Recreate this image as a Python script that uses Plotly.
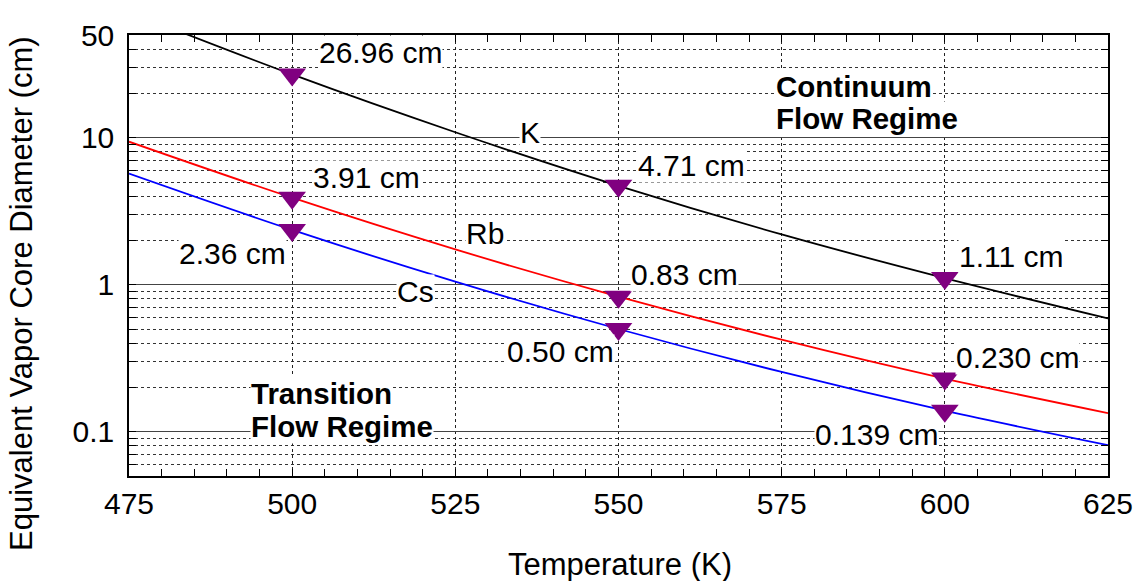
import plotly.graph_objects as go

# Temperatures (K) along each curve
temps = [475, 500, 525, 550, 575, 600, 625]

# Equivalent vapor core diameter (cm) for each working fluid
k_diam = [72.0, 26.96, 10.9, 4.71, 2.20, 1.11, 0.59]
rb_diam = [9.4, 3.91, 1.74, 0.83, 0.423, 0.230, 0.134]
cs_diam = [5.7, 2.36, 1.05, 0.50, 0.255, 0.139, 0.081]

# Marked design points
pt_temps = [500, 550, 600]
k_pts = [26.96, 4.71, 1.11]
rb_pts = [3.91, 0.83, 0.230]
cs_pts = [2.36, 0.50, 0.139]

# Value labels: (text, T of left edge, log10 diameter of centre)
value_labels = [
    ("26.96 cm", 503.9, 1.577),
    ("3.91 cm", 503.0, 0.733),
    ("2.36 cm", 482.5, 0.216),
    ("4.71 cm", 552.8, 0.808),
    ("0.83 cm", 551.8, 0.073),
    ("0.50 cm", 532.8, -0.451),
    ("1.11 cm", 602.0, 0.189),
    ("0.230 cm", 601.6, -0.498),
    ("0.139 cm", 580.0, -1.016),
]
fluid_labels = [("K", 534.7, 1.039), ("Rb", 526.5, 0.352), ("Cs", 515.9, -0.049)]
regime_labels = [
    ("Continuum", 574.0, 1.352),
    ("Flow Regime", 574.0, 1.128),
    ("Transition", 493.5, -0.737),
    ("Flow Regime", 493.5, -0.962),
]

y_major = [0.1, 1, 10, 50]
y_major_text = ["0.1", "1", "10", "50"]
y_minor = [0.06, 0.07, 0.08, 0.09,
           0.2, 0.3, 0.4, 0.5, 0.6, 0.7, 0.8, 0.9,
           2, 3, 4, 5, 6, 7, 8, 9,
           20, 30, 40]

FONT = "Liberation Sans, Arial, sans-serif"

fig = go.Figure()
for name, vals, col in [("K", k_diam, "black"), ("Rb", rb_diam, "red"), ("Cs", cs_diam, "blue")]:
    fig.add_trace(go.Scatter(x=temps, y=vals, mode="lines", name=name,
                             line=dict(color=col, width=1.8, shape="spline")))
for vals in (k_pts, rb_pts, cs_pts):
    fig.add_trace(go.Scatter(x=pt_temps, y=vals, mode="markers",
                             marker=dict(symbol="triangle-down", size=24, color="#800080",
                                         line=dict(width=0))))

annos = []
for txt, x, y in value_labels + fluid_labels:
    annos.append(dict(text=txt, x=x, y=y, xref="x", yref="y", xanchor="left", yanchor="middle",
                      showarrow=False, bgcolor="white", borderpad=0,
                      font=dict(family=FONT, size=30, color="black")))
for txt, x, y in regime_labels:
    annos.append(dict(text="<b>%s</b>" % txt, x=x, y=y, xref="x", yref="y", xanchor="left",
                      yanchor="middle", showarrow=False, bgcolor="white", borderpad=0,
                      font=dict(family=FONT, size=29.5, color="black")))
annos.append(dict(text="Equivalent Vapor Core Diameter (cm)", textangle=-90, x=-0.1093, y=0.415,
                  xref="paper", yref="paper", xanchor="center", yanchor="middle", showarrow=False,
                  font=dict(family=FONT, size=31, color="black")))
annos.append(dict(text="Temperature (K)", x=0.5015, y=-0.2018, xref="paper", yref="paper",
                  xanchor="center", yanchor="middle", showarrow=False,
                  font=dict(family=FONT, size=31, color="black")))

fig.update_layout(
    width=1138, height=581,
    margin=dict(l=129, r=30, t=35, b=105, autoexpand=False),
    paper_bgcolor="white", plot_bgcolor="white",
    showlegend=False,
    annotations=annos,
    font=dict(family=FONT, size=30, color="black"),
)
fig.update_xaxes(
    range=[475, 625], tick0=475, dtick=25, automargin=False,
    showgrid=True, gridcolor="#222", gridwidth=1, griddash="dot",
    ticks="inside", ticklen=7, tickcolor="black",
    minor=dict(dtick=5, ticks="inside", ticklen=7, tickcolor="black", showgrid=False),
    showline=True, linecolor="black", linewidth=1.5, mirror="allticks",
    zeroline=False, ticklabelstandoff=0,
    tickfont=dict(family=FONT, size=30, color="black"),
)
fig.update_yaxes(
    type="log", range=[-1.30103, 1.69897], automargin=False,
    tickvals=y_major, ticktext=y_major_text,
    showgrid=True, gridcolor="#444", gridwidth=1,
    ticks="inside", ticklen=7, tickcolor="black",
    minor=dict(tickvals=y_minor, ticks="inside", ticklen=7, tickcolor="black",
               showgrid=True, gridcolor="#333", gridwidth=1, griddash="3px,3px"),
    showline=True, linecolor="black", linewidth=1.5, mirror="allticks",
    zeroline=False, ticklabelstandoff=7,
    tickfont=dict(family=FONT, size=30, color="black"),
)

fig.write_html("out.html")
